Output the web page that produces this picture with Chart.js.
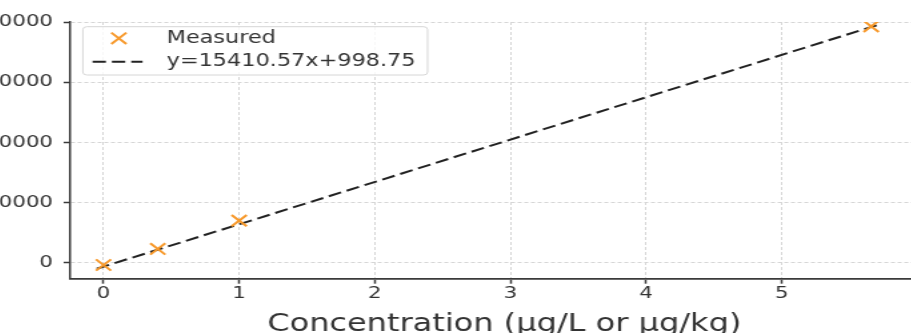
<!DOCTYPE html>
<html>
<head>
<meta charset="utf-8">
<script src="https://cdn.jsdelivr.net/npm/chart.js@4/dist/chart.umd.min.js"></script>
<style>
html,body{margin:0;padding:0;width:911px;height:333px;overflow:hidden;background:#ffffff;}
#wrap{position:absolute;left:-14.6px;top:0;width:725px;height:345px;transform:scaleX(1.3333);transform-origin:0 0;}
canvas{display:block;}
</style>
</head>
<body>
<div id="wrap"><canvas id="c" width="725" height="345"></canvas></div>
<script>
// ---- data ----
const concentration = [0, 0.4, 1, 5.66];
const response      = [-770, 4560, 13980, 78540];
const fitX = [-0.05, 5.7];
const fitY = [-2000, 78900];
const seriesLabels = ['Measured', 'y=15410.57x+998.75'];
const xTicks = [0, 1, 2, 3, 4, 5, 6];
const yTicks = [0, 20000, 40000, 60000, 80000];
const xTitle = 'Concentration (µg/L or µg/kg)';

const ORANGE = '#f7992b';
const LINE = '#222222';
const FONT = 'DejaVu Sans';

const legendPlugin = {
  id: 'boxLegend',
  afterDraw(chart) {
    const ctx = chart.ctx, a = chart.chartArea;
    const x0 = a.left + 9.4, y0 = a.top + 4.7;
    ctx.save();
    ctx.font = '16.8px "' + FONT + '"';
    const tw = Math.max(...seriesLabels.map(t => ctx.measureText(t).width));
    const w = 62.8 + tw + 9, h = 48.3;
    ctx.beginPath();
    ctx.roundRect(x0, y0, w, h, 3);
    ctx.fillStyle = 'rgba(255,255,255,0.8)';
    ctx.fill();
    ctx.strokeStyle = '#d6d6d6';
    ctx.lineWidth = 1;
    ctx.stroke();
    // marker sample
    const ds0 = chart.data.datasets[0];
    ctx.strokeStyle = ds0.borderColor;
    ctx.lineWidth = ds0.pointBorderWidth;
    Chart.helpers.drawPoint(ctx, {pointStyle: 'crossRot', radius: ds0.pointRadius, borderWidth: ds0.pointBorderWidth, rotation: 0}, x0 + 27, y0 + 11.6);
    // line sample
    const ds1 = chart.data.datasets[1];
    ctx.beginPath();
    ctx.setLineDash(ds1.borderDash);
    ctx.strokeStyle = ds1.borderColor;
    ctx.lineWidth = ds1.borderWidth;
    ctx.moveTo(x0 + 7.3, y0 + 35);
    ctx.lineTo(x0 + 44.8, y0 + 35);
    ctx.stroke();
    ctx.setLineDash([]);
    // texts
    ctx.fillStyle = '#333333';
    ctx.textBaseline = 'middle';
    ctx.textAlign = 'left';
    ctx.fillText(seriesLabels[0], x0 + 62.8, y0 + 11.6);
    ctx.fillText(seriesLabels[1], x0 + 62.8, y0 + 35);
    ctx.restore();
  }
};

new Chart(document.getElementById('c'), {
  type: 'scatter',
  data: {
    datasets: [
      {
        label: seriesLabels[0],
        data: concentration.map((x, i) => ({x: x, y: response[i]})),
        pointStyle: 'crossRot',
        pointRadius: 8,
        pointBorderWidth: 2,
        borderColor: ORANGE,
        backgroundColor: ORANGE,
        order: 0
      },
      {
        label: seriesLabels[1],
        type: 'line',
        data: fitX.map((x, i) => ({x: x, y: fitY[i]})),
        showLine: true,
        pointRadius: 0,
        borderColor: LINE,
        borderWidth: 2,
        borderDash: [10, 4.5],
        fill: false,
        order: 1
      }
    ]
  },
  options: {
    responsive: false,
    animation: false,
    devicePixelRatio: 1,
    layout: {padding: {left: 0, right: 0, top: 22, bottom: 5.9}},
    plugins: {legend: {display: false}, tooltip: {enabled: false}},
    scales: {
      x: {
        type: 'linear',
        min: -0.245,
        max: 6.155,
        afterBuildTicks: s => { s.ticks = xTicks.map(v => ({value: v})); },
        afterFit: s => { s.height = 60.4; },
        grid: {color: '#d6d6d6', lineWidth: 1, drawTicks: true, tickLength: 5, tickColor: '#3a3a3a', tickWidth: 1.5, tickBorderDash: []},
        border: {display: true, color: '#3a3a3a', width: 1.8, dash: [3, 2]},
        ticks: {padding: 1, color: '#333333', font: {family: FONT, size: 16}, maxRotation: 0, autoSkip: false, includeBounds: false, callback: v => String(v)},
        title: {display: true, text: xTitle, color: '#333333', font: {family: FONT, size: 24}, padding: {top: 0, bottom: 0}}
      },
      y: {
        type: 'linear',
        min: -5320,
        max: 80000,
        afterBuildTicks: s => { s.ticks = yTicks.map(v => ({value: v})); },
        afterFit: s => { s.width = 64; },
        grid: {color: '#d6d6d6', lineWidth: 1, drawTicks: true, tickLength: 5, tickColor: '#3a3a3a', tickWidth: 1.5, tickBorderDash: []},
        border: {display: true, color: '#3a3a3a', width: 1.5, dash: [3, 2]},
        ticks: {padding: 8, color: '#333333', font: {family: FONT, size: 16}, includeBounds: false, callback: v => String(v)}
      }
    }
  },
  plugins: [legendPlugin]
});
</script>
</body>
</html>
